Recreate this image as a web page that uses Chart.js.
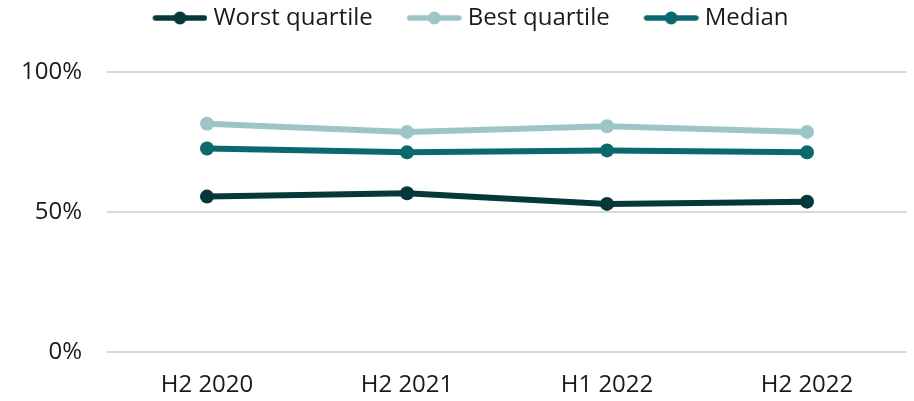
<!DOCTYPE html>
<html>
<head>
<meta charset="utf-8">
<script src="https://cdn.jsdelivr.net/npm/chart.js@4"></script>
<style>
  html, body { margin: 0; padding: 0; background: #fff; }
  #wrap { width: 914px; height: 401px; }
</style>
</head>
<body>
<div id="wrap"><canvas id="chart"></canvas></div>
<script>
// Chart data
const periods = ['H2 2020', 'H2 2021', 'H1 2022', 'H2 2022'];
const worstQuartile = [55.5, 56.7, 52.9, 53.7];
const bestQuartile = [81.5, 78.6, 80.6, 78.6];
const median = [72.7, 71.3, 72.0, 71.3];
const yTicks = [0, 50, 100];

// Legend marker: line with a dot in the middle (transparent space on the left acts as item gap)
function legendMarker(color) {
    const c = document.createElement('canvas');
    c.width = 95;
    c.height = 16;
    const g = c.getContext('2d');
    g.strokeStyle = color;
    g.lineWidth = 5.5;
    g.lineCap = 'round';
    g.beginPath();
    g.moveTo(43, 8);
    g.lineTo(92, 8);
    g.stroke();
    g.fillStyle = color;
    g.beginPath();
    g.arc(67.5, 8, 6.5, 0, Math.PI * 2);
    g.fill();
    return c;
}

function series(label, data, color) {
    return {
        label: label,
        data: data,
        borderColor: color,
        backgroundColor: color,
        borderWidth: 6,
        pointRadius: 7,
        pointHoverRadius: 7,
        pointBorderWidth: 0,
        pointStyle: 'circle',
        tension: 0,
        legendMarker: legendMarker(color)
    };
}

const ctx = document.getElementById('chart').getContext('2d');
new Chart(ctx, {
    type: 'line',
    data: {
        labels: periods,
        datasets: [
            series('Worst quartile', worstQuartile, '#06373b'),
            series('Best quartile', bestQuartile, '#9dc5c7'),
            series('Median', median, '#0b686d')
        ]
    },
    options: {
        responsive: true,
        maintainAspectRatio: false,
        animation: false,
        layout: { padding: { top: 6, right: 7, bottom: 0, left: 0 } },
        plugins: {
            tooltip: { enabled: false },
            legend: {
                position: 'top',
                labels: {
                    usePointStyle: true,
                    pointStyleWidth: 83,
                    boxHeight: 16,
                    padding: 0,
                    color: '#1a1a1a',
                    font: { family: 'Open Sans', size: 24 },
                    generateLabels(chart) {
                        return chart.data.datasets.map((ds, i) => ({
                            text: ds.label,
                            pointStyle: ds.legendMarker,
                            fillStyle: ds.borderColor,
                            strokeStyle: ds.borderColor,
                            lineWidth: 0,
                            fontColor: '#1a1a1a',
                            datasetIndex: i
                        }));
                    }
                }
            }
        },
        scales: {
            x: {
                offset: true,
                grid: { display: false, drawTicks: false },
                border: { display: false },
                afterFit(axis) {
                    axis.height = 49;
                },
                ticks: {
                    color: '#1a1a1a',
                    padding: 19,
                    font: { family: 'Open Sans', size: 24 }
                }
            },
            y: {
                min: 0,
                max: 100,
                afterBuildTicks(axis) {
                    axis.ticks = yTicks.map(v => ({ value: v }));
                },
                afterFit(axis) {
                    axis.width = 107;
                },
                grid: { color: '#d9d9d9', lineWidth: 2, drawTicks: false },
                border: { display: false },
                ticks: {
                    color: '#1a1a1a',
                    padding: 25,
                    font: { family: 'Open Sans', size: 24 },
                    callback: v => v + '%'
                }
            }
        }
    },
    plugins: [{
        id: 'legendHeight',
        beforeInit(chart) {
            const fit = chart.legend.fit;
            chart.legend.fit = function () {
                fit.bind(chart.legend)();
                this.height = 66;
            };
        }
    }]
});
</script>
</body>
</html>
